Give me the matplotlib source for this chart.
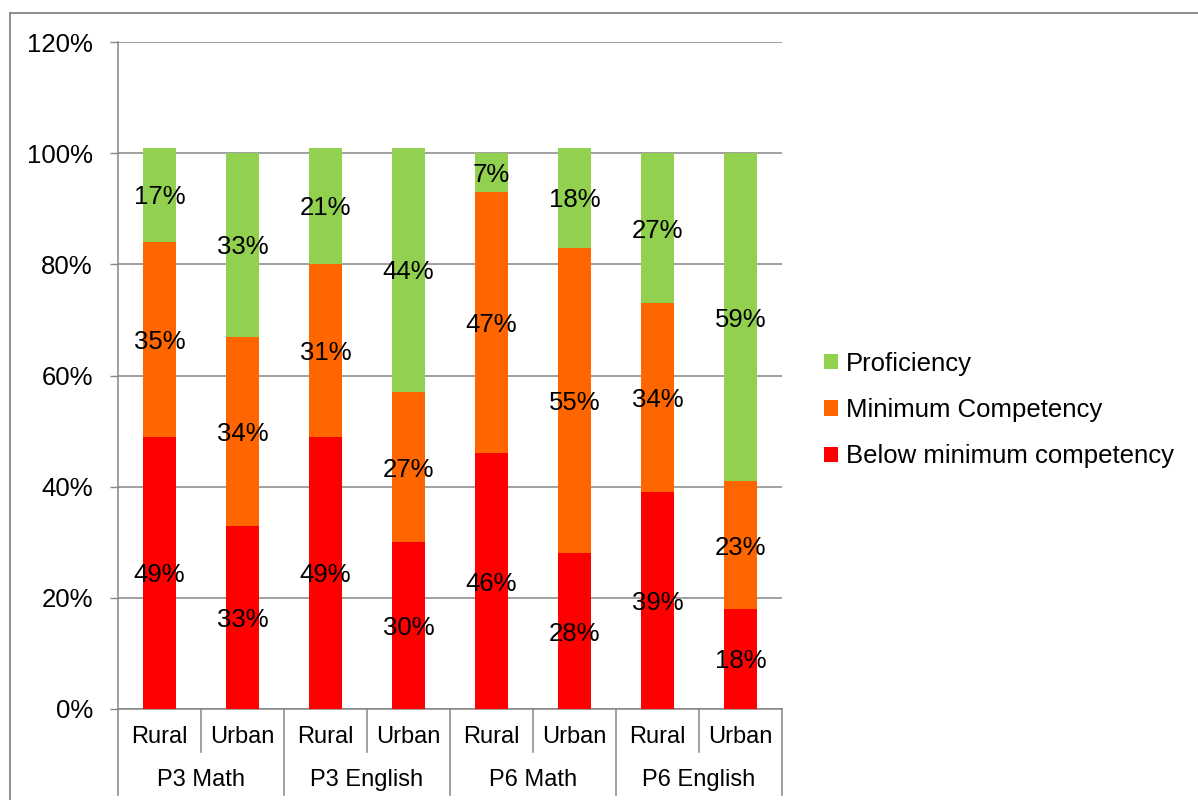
import matplotlib
matplotlib.use("Agg")
from matplotlib import pyplot as plt
from matplotlib.patches import Patch
from matplotlib.lines import Line2D
import matplotlib.transforms as mtransforms
import numpy as np

plt.rcParams['font.family'] = ['Liberation Sans', 'DejaVu Sans']

groups = ["P3 Math", "P3 English", "P6 Math", "P6 English"]
areas = ["Rural", "Urban"]
below_min = [49, 33, 49, 30, 46, 28, 39, 18]
min_comp = [35, 34, 31, 27, 47, 55, 34, 23]
proficiency = [17, 33, 21, 44, 7, 18, 27, 59]

series_names = ["Below minimum competency", "Minimum Competency", "Proficiency"]
colors = ["#FF0000", "#FF6600", "#92D050"]
grey = "#868686"
fs = 18.5
fs_cat = 17

fig = plt.figure(figsize=(11.98, 8), dpi=100)
ax = fig.add_axes([118/1198, 1 - 709/800, (782 - 118)/1198, (709 - 42)/800])

x = np.arange(len(below_min))
bottom = np.zeros(len(x))
for vals, col in zip([below_min, min_comp, proficiency], colors):
	vals = np.array(vals, dtype=float)
	ax.bar(x, vals, 0.4, bottom=bottom, color=col, zorder=3)
	for xi, b, v in zip(x, bottom, vals):
		ax.text(xi, b + v/2, "{}%".format(int(v)), ha="center", va="center_baseline",
			fontsize=fs, color="black", zorder=4)
	bottom += vals

ax.set_xlim(-0.5, len(x) - 0.5)
ax.set_ylim(0, 120)
ax.set_yticks(np.arange(0, 121, 20))
ax.set_yticklabels(["{}%".format(v) for v in range(0, 121, 20)], fontsize=fs)
ax.tick_params(axis="y", length=6, color=grey, width=1, pad=12)
ax.set_xticks([])
ax.grid(axis="y", color=grey, linewidth=1.1, zorder=0)
for s in ["top", "right"]:
	ax.spines[s].set_visible(False)
for s in ["left", "bottom"]:
	ax.spines[s].set_color(grey)
	ax.spines[s].set_linewidth(1.1)

# two-level category axis drawn as a table under the bars
trans = mtransforms.blended_transform_factory(ax.transData, ax.transAxes)
inner = -(752 - 709)/667
outer = -(795 - 709)/667
for i in range(len(x) + 1):
	edge = i - 0.5
	low = outer if i % 2 == 0 else inner
	ax.add_line(Line2D([edge, edge], [0, low], transform=trans, color=grey,
		linewidth=1.1, clip_on=False))
for i in range(len(x)):
	ax.text(i, -(737 - 709)/667, areas[i % 2], transform=trans, ha="center",
		va="center", fontsize=fs_cat)
for g, name in enumerate(groups):
	ax.text(2*g + 0.5, -(780 - 709)/667, name, transform=trans, ha="center",
		va="center", fontsize=fs_cat)

handles = [Patch(facecolor=c, edgecolor="none") for c in colors[::-1]]
fig.legend(handles, series_names[::-1], loc="center left",
	bbox_to_anchor=(801/1198, 1 - 410/800), frameon=False, fontsize=fs,
	handlelength=0.55, handleheight=0.55, handletextpad=0.3, labelspacing=0.87)

# outer chart frame
fx = 10/1198
fy = 1 - 12.5/800
fig.add_artist(Line2D([fx, 1], [fy, fy], transform=fig.transFigure, color=grey, linewidth=1.3))
fig.add_artist(Line2D([fx, fx], [0, fy], transform=fig.transFigure, color=grey, linewidth=1.3))

fig.savefig("out.png", dpi=100)
plt.close(fig)
